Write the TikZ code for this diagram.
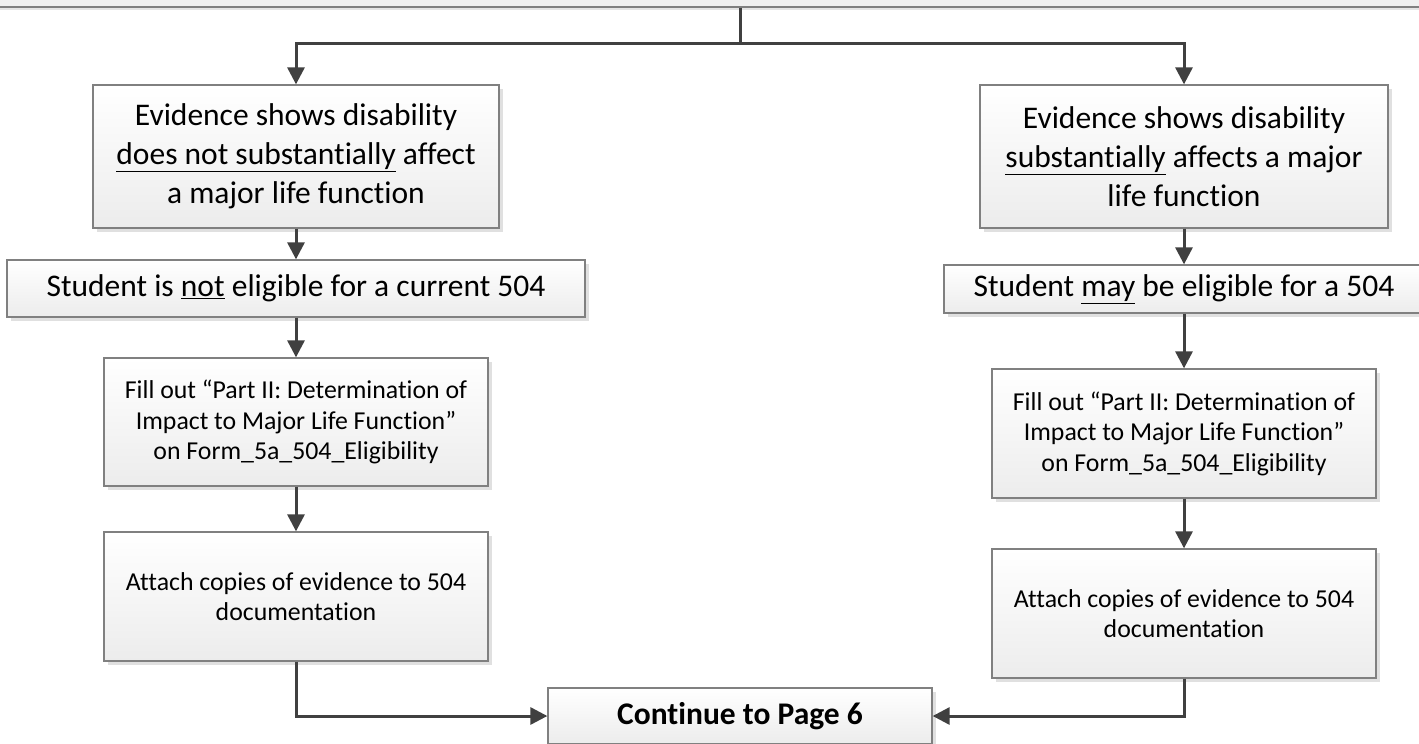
\documentclass[tikz,border=0pt]{standalone}
\usepackage{fontspec}
\setmainfont{Carlito}[Ligatures=NoCommon]
\usetikzlibrary{arrows.meta}
\usetikzlibrary{shadows}
\usetikzlibrary{positioning}
\definecolor{boxline}{RGB}{128, 128, 128}
\definecolor{boxfade}{RGB}{236, 236, 236}
\definecolor{flowgray}{RGB}{64, 64, 64}
\definecolor{barfill}{RGB}{240, 240, 240}

\tikzset{
    stepbox/.style={draw=boxline, line width=1.3pt, top color=white, bottom color=boxfade,
                    inner sep=0pt, align=center,
                    drop shadow={shadow xshift=4pt, shadow yshift=-4pt, fill=black!12, opacity=1}},
    bigtext/.style={font=\fontsize{31.5}{39}\selectfont},
    smalltext/.style={font=\fontsize{25.8}{30.5}\selectfont},
    flowline/.style={draw=flowgray, line width=3pt},
    flow/.style={flowline, -{Triangle[length=17pt, width=17pt]}}
}

\begin{document}
\begin{tikzpicture}[x=1pt, y=-1pt]
    \useasboundingbox (0,0) rectangle (1419,744);
    \node[draw=boxline, fill=barfill, line width=1.3pt, inner sep=0pt,
          minimum width=1460pt, minimum height=40pt,
          drop shadow={shadow xshift=0pt, shadow yshift=-3pt, fill=black!10, opacity=1}]
          (topbar)  at ( 710.0, -13.0) {};
    \node[stepbox, bigtext, minimum width=406pt, minimum height=143pt]
          (evnot)   at ( 296.0, 156.5) {Evidence shows disability\\ \underline{does not substantially} affect\\ a major life function};
    \node[stepbox, bigtext, minimum width=578pt, minimum height=57pt]
          (notelig) at ( 296.0, 288.5) {Student is \underline{not} eligible for a current 504};
    \node[stepbox, smalltext, minimum width=384pt, minimum height=128pt]
          (fillnot) at ( 296.0, 422.0) {Fill out “Part II: Determination of\\ Impact to Major Life Function”\\ on Form\_5a\_504\_Eligibility};
    \node[stepbox, smalltext, minimum width=384pt, minimum height=129pt]
          (attnot)  at ( 296.0, 596.5) {Attach copies of evidence to 504\\ documentation};
    \node[stepbox, bigtext, minimum width=408pt, minimum height=143pt]
          (evsub)   at (1184.0, 156.5) {Evidence shows disability\\ \underline{substantially} affects a major\\ life function};
    \node[stepbox, bigtext, minimum width=480pt, minimum height=48pt]
          (mayelig) at (1184.0, 289.0) {Student \underline{may} be eligible for a 504};
    \node[stepbox, smalltext, minimum width=384pt, minimum height=129pt]
          (fillsub) at (1184.0, 433.5) {Fill out “Part II: Determination of\\ Impact to Major Life Function”\\ on Form\_5a\_504\_Eligibility};
    \node[stepbox, smalltext, minimum width=384pt, minimum height=129pt]
          (attsub)  at (1184.0, 613.5) {Attach copies of evidence to 504\\ documentation};
    \node[stepbox, font=\fontsize{31.5}{39}\selectfont\bfseries, minimum width=384pt, minimum height=56pt]
          (goon)    at ( 740.0, 716.0) {Continue to Page 6};

    \coordinate (split) at (740,43);
    \draw[flowline] (topbar.south -| split) -- (split);
    \draw[flow]     (split) -| (evnot.north);
    \draw[flow]     (split) -| (evsub.north);
    \draw[flow]     (evnot.south)   -- (notelig.north);
    \draw[flow]     (notelig.south) -- (fillnot.north);
    \draw[flow]     (fillnot.south) -- (attnot.north);
    \draw[flow]     (evsub.south)   -- (mayelig.north);
    \draw[flow]     (mayelig.south) -- (fillsub.north);
    \draw[flow]     (fillsub.south) -- (attsub.north);
    \draw[flow]     (attnot.south)  |- (goon.west);
    \draw[flow]     (attsub.south)  |- (goon.east);
\end{tikzpicture}
\end{document}
